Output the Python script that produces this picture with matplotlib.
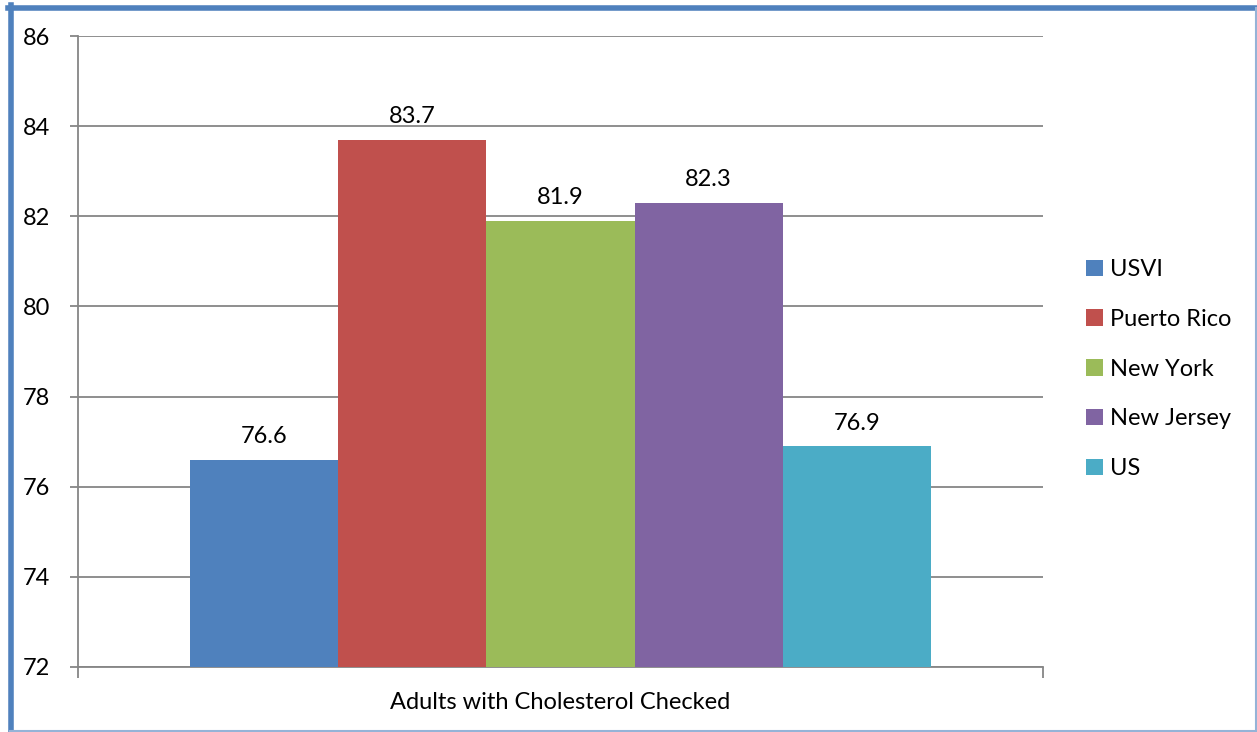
import matplotlib.pyplot as plt
from matplotlib.lines import Line2D

# chart data
category = 'Adults with Cholesterol Checked'
series = ['USVI', 'Puerto Rico', 'New York', 'New Jersey', 'US']
values = [76.6, 83.7, 81.9, 82.3, 76.9]
colors = ['#4F81BD', '#C0504D', '#9BBB59', '#8064A2', '#4BACC6']
yticks = [72, 74, 76, 78, 80, 82, 84, 86]

plt.rcParams['font.family'] = ['Lato', 'DejaVu Sans']
fs = 17

fig = plt.figure(figsize=(12.57, 7.32), dpi=100)
ax = fig.add_axes([0.0621, 0.0888, 0.7677, 0.862])

width = 0.1535
n = len(series)
for i, (name, v, c) in enumerate(zip(series, values, colors)):
    x = (i - (n - 1) / 2) * width
    ax.bar(x, v - 72, width, bottom=72, color=c, label=name, zorder=3)
    ax.annotate(f'{v:.1f}', (x, v), xytext=(0, 16.5), textcoords='offset points',
                ha='center', va='center', fontsize=fs)

ax.set_xlim(-0.5, 0.5)
ax.set_ylim(72, 86)
ax.set_yticks(yticks)
ax.tick_params(axis='y', labelsize=fs, length=6, color='#868686', width=1.3, pad=14)
ax.set_xticks([-0.5, 0.5])
ax.set_xticklabels(['', ''])
ax.set_xticks([0], minor=True)
ax.set_xticklabels([category], minor=True)
ax.tick_params(axis='x', which='major', length=8, color='#868686', width=1.3)
ax.tick_params(axis='x', which='minor', length=0, labelsize=fs, pad=18)
ax.grid(True, axis='y', color='#868686', linewidth=1.3, zorder=0)
for s in ['top', 'right']:
    ax.spines[s].set_visible(False)
for s in ['left', 'bottom']:
    ax.spines[s].set_color('#868686')
    ax.spines[s].set_linewidth(1.3)

ax.legend(loc='center left', bbox_to_anchor=(1.035, 0.472), frameon=False, fontsize=fs,
          handlelength=0.7, handleheight=0.7, handletextpad=0.3, labelspacing=1.22,
          borderaxespad=0)

# chart border
W, H = 1257, 732
fig.add_artist(Line2D([10.5 / W, 10.5 / W], [0, 1 - 5 / H], transform=fig.transFigure,
                      color='#4F81BD', linewidth=4))
fig.add_artist(Line2D([8 / W, 1], [1 - 7.5 / H, 1 - 7.5 / H], transform=fig.transFigure,
                      color='#4F81BD', linewidth=4))
fig.add_artist(Line2D([1255.5 / W, 1255.5 / W], [0, 1 - 7.5 / H], transform=fig.transFigure,
                      color='#95B3D7', linewidth=1.5))
fig.add_artist(Line2D([10 / W, 1], [1.5 / H, 1.5 / H], transform=fig.transFigure,
                      color='#95B3D7', linewidth=1.5))

fig.savefig('out.png', dpi=100)
